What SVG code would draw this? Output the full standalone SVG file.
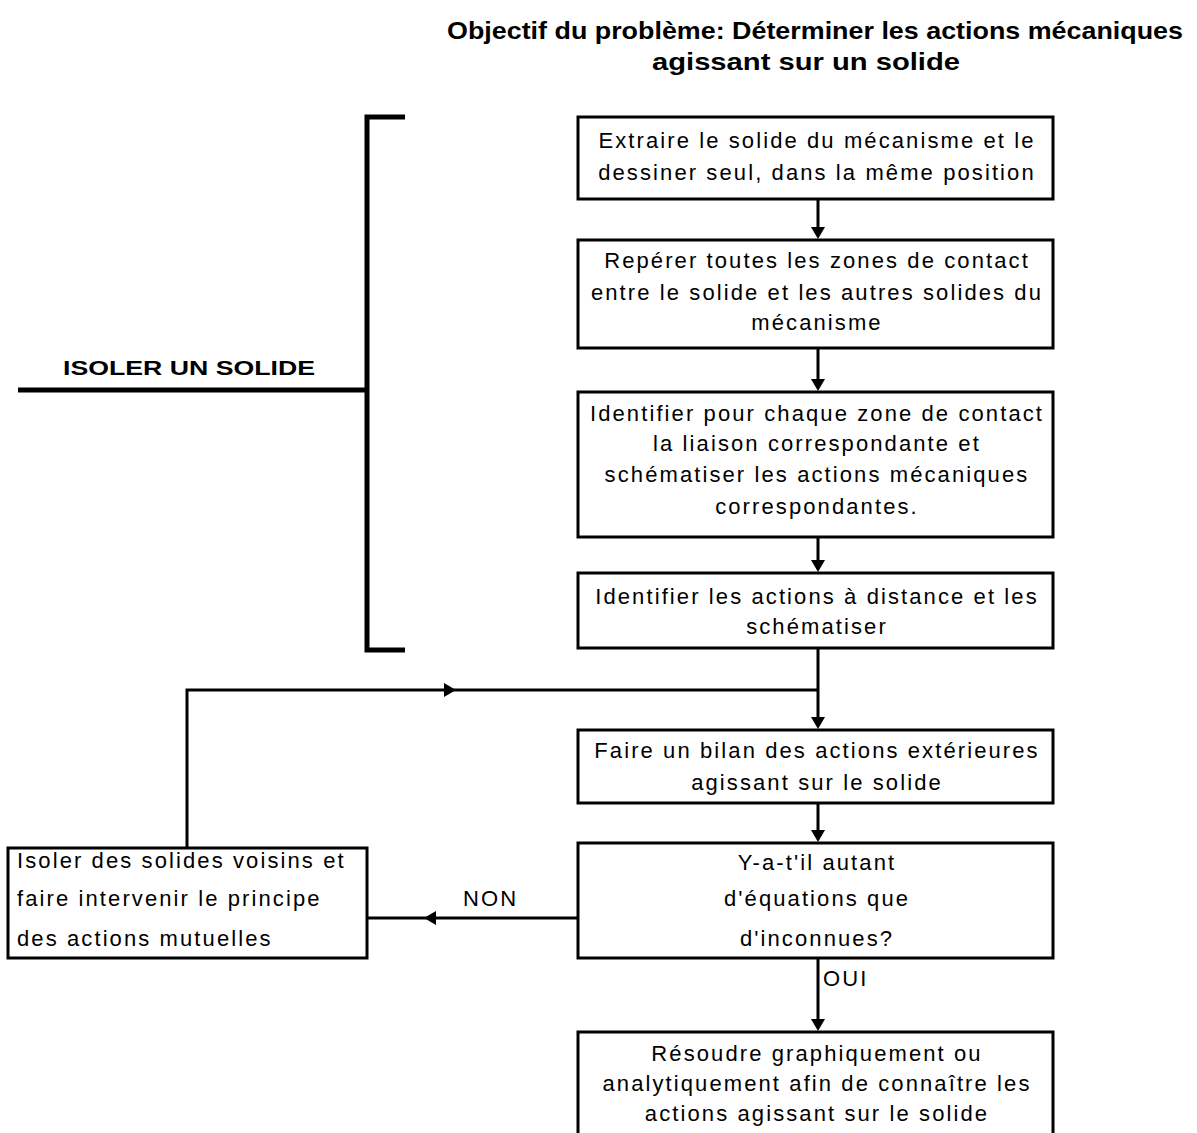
<svg xmlns="http://www.w3.org/2000/svg" width="1197" height="1133" viewBox="0 0 1197 1133">
<style>
.box{fill:#fff;stroke:#000;stroke-width:3}
.t{font-family:"Liberation Sans",Arial,sans-serif;font-size:22px;fill:#000;text-anchor:middle;letter-spacing:2.1px}
.tl{font-family:"Liberation Sans",Arial,sans-serif;font-size:22px;fill:#000;letter-spacing:2.1px}
.b{font-family:"Liberation Sans",Arial,sans-serif;font-weight:bold;fill:#000;text-anchor:middle}
.ln{fill:none;stroke:#000;stroke-width:3}
.ah{fill:#000}
</style>
<rect width="1197" height="1133" fill="#fff"/>
<g id="title">
<text class="b" x="815" y="39" font-size="24" textLength="736" lengthAdjust="spacingAndGlyphs">Objectif du problème: Déterminer les actions mécaniques</text>
<text class="b" x="806" y="70" font-size="24" textLength="308" lengthAdjust="spacingAndGlyphs">agissant sur un solide</text>
</g>
<g id="bracket">
<path d="M405,117 H367 V650 H405" fill="none" stroke="#000" stroke-width="5"/>
<line x1="18" y1="390" x2="367" y2="390" stroke="#000" stroke-width="5"/>
<text class="b" x="189" y="375" font-size="21" textLength="252" lengthAdjust="spacingAndGlyphs">ISOLER UN SOLIDE</text>
</g>
<g id="connectors">
<line class="ln" x1="818" y1="199" x2="818" y2="230"/>
<path class="ah" d="M811,227 H825 L818,239 Z"/>
<line class="ln" x1="818" y1="348" x2="818" y2="382"/>
<path class="ah" d="M811,379 H825 L818,391 Z"/>
<line class="ln" x1="818" y1="537" x2="818" y2="563"/>
<path class="ah" d="M811,560 H825 L818,572 Z"/>
<line class="ln" x1="818" y1="648" x2="818" y2="720"/>
<path class="ah" d="M811,717 H825 L818,729 Z"/>
<line class="ln" x1="818" y1="803" x2="818" y2="833"/>
<path class="ah" d="M811,830 H825 L818,842 Z"/>
<line class="ln" x1="818" y1="958" x2="818" y2="1022"/>
<path class="ah" d="M811,1019 H825 L818,1031 Z"/>
<path class="ln" d="M187,848 V690 H818"/>
<path class="ah" d="M444,683 V697 L456,690 Z"/>
<line class="ln" x1="578" y1="918" x2="367" y2="918"/>
<path class="ah" d="M436,911 V925 L424,918 Z"/>
<text class="tl" x="463" y="906" letter-spacing="1.5">NON</text>
<text class="tl" x="823" y="986" letter-spacing="0.3">OUI</text>
</g>
<g id="n1">
<rect class="box" x="578" y="117" width="475" height="82"/>
<text class="t" x="817" y="148">Extraire le solide du mécanisme et le</text>
<text class="t" x="817" y="180">dessiner seul, dans la même position</text>
</g>
<g id="n2">
<rect class="box" x="578" y="240" width="475" height="108"/>
<text class="t" x="817" y="268">Repérer toutes les zones de contact</text>
<text class="t" x="817" y="300">entre le solide et les autres solides du</text>
<text class="t" x="817" y="330">mécanisme</text>
</g>
<g id="n3">
<rect class="box" x="578" y="392" width="475" height="145"/>
<text class="t" x="817" y="421">Identifier pour chaque zone de contact</text>
<text class="t" x="817" y="451">la liaison correspondante et</text>
<text class="t" x="817" y="482">schématiser les actions mécaniques</text>
<text class="t" x="817" y="514">correspondantes.</text>
</g>
<g id="n4">
<rect class="box" x="578" y="573" width="475" height="75"/>
<text class="t" x="817" y="604">Identifier les actions à distance et les</text>
<text class="t" x="817" y="634">schématiser</text>
</g>
<g id="n5">
<rect class="box" x="578" y="730" width="475" height="73"/>
<text class="t" x="817" y="758">Faire un bilan des actions extérieures</text>
<text class="t" x="817" y="790">agissant sur le solide</text>
</g>
<g id="n6">
<rect class="box" x="578" y="843" width="475" height="115"/>
<text class="t" x="817" y="870">Y-a-t'il autant</text>
<text class="t" x="817" y="906">d'équations que</text>
<text class="t" x="817" y="946">d'inconnues?</text>
</g>
<g id="n7">
<rect class="box" x="8" y="848" width="359" height="110"/>
<text class="tl" x="17" y="868">Isoler des solides voisins et</text>
<text class="tl" x="17" y="906">faire intervenir le principe</text>
<text class="tl" x="17" y="946">des actions mutuelles</text>
</g>
<g id="n8">
<rect class="box" x="578" y="1032" width="475" height="110"/>
<text class="t" x="817" y="1061">Résoudre graphiquement ou</text>
<text class="t" x="817" y="1091">analytiquement afin de connaître les</text>
<text class="t" x="817" y="1121">actions agissant sur le solide</text>
</g>
</svg>
